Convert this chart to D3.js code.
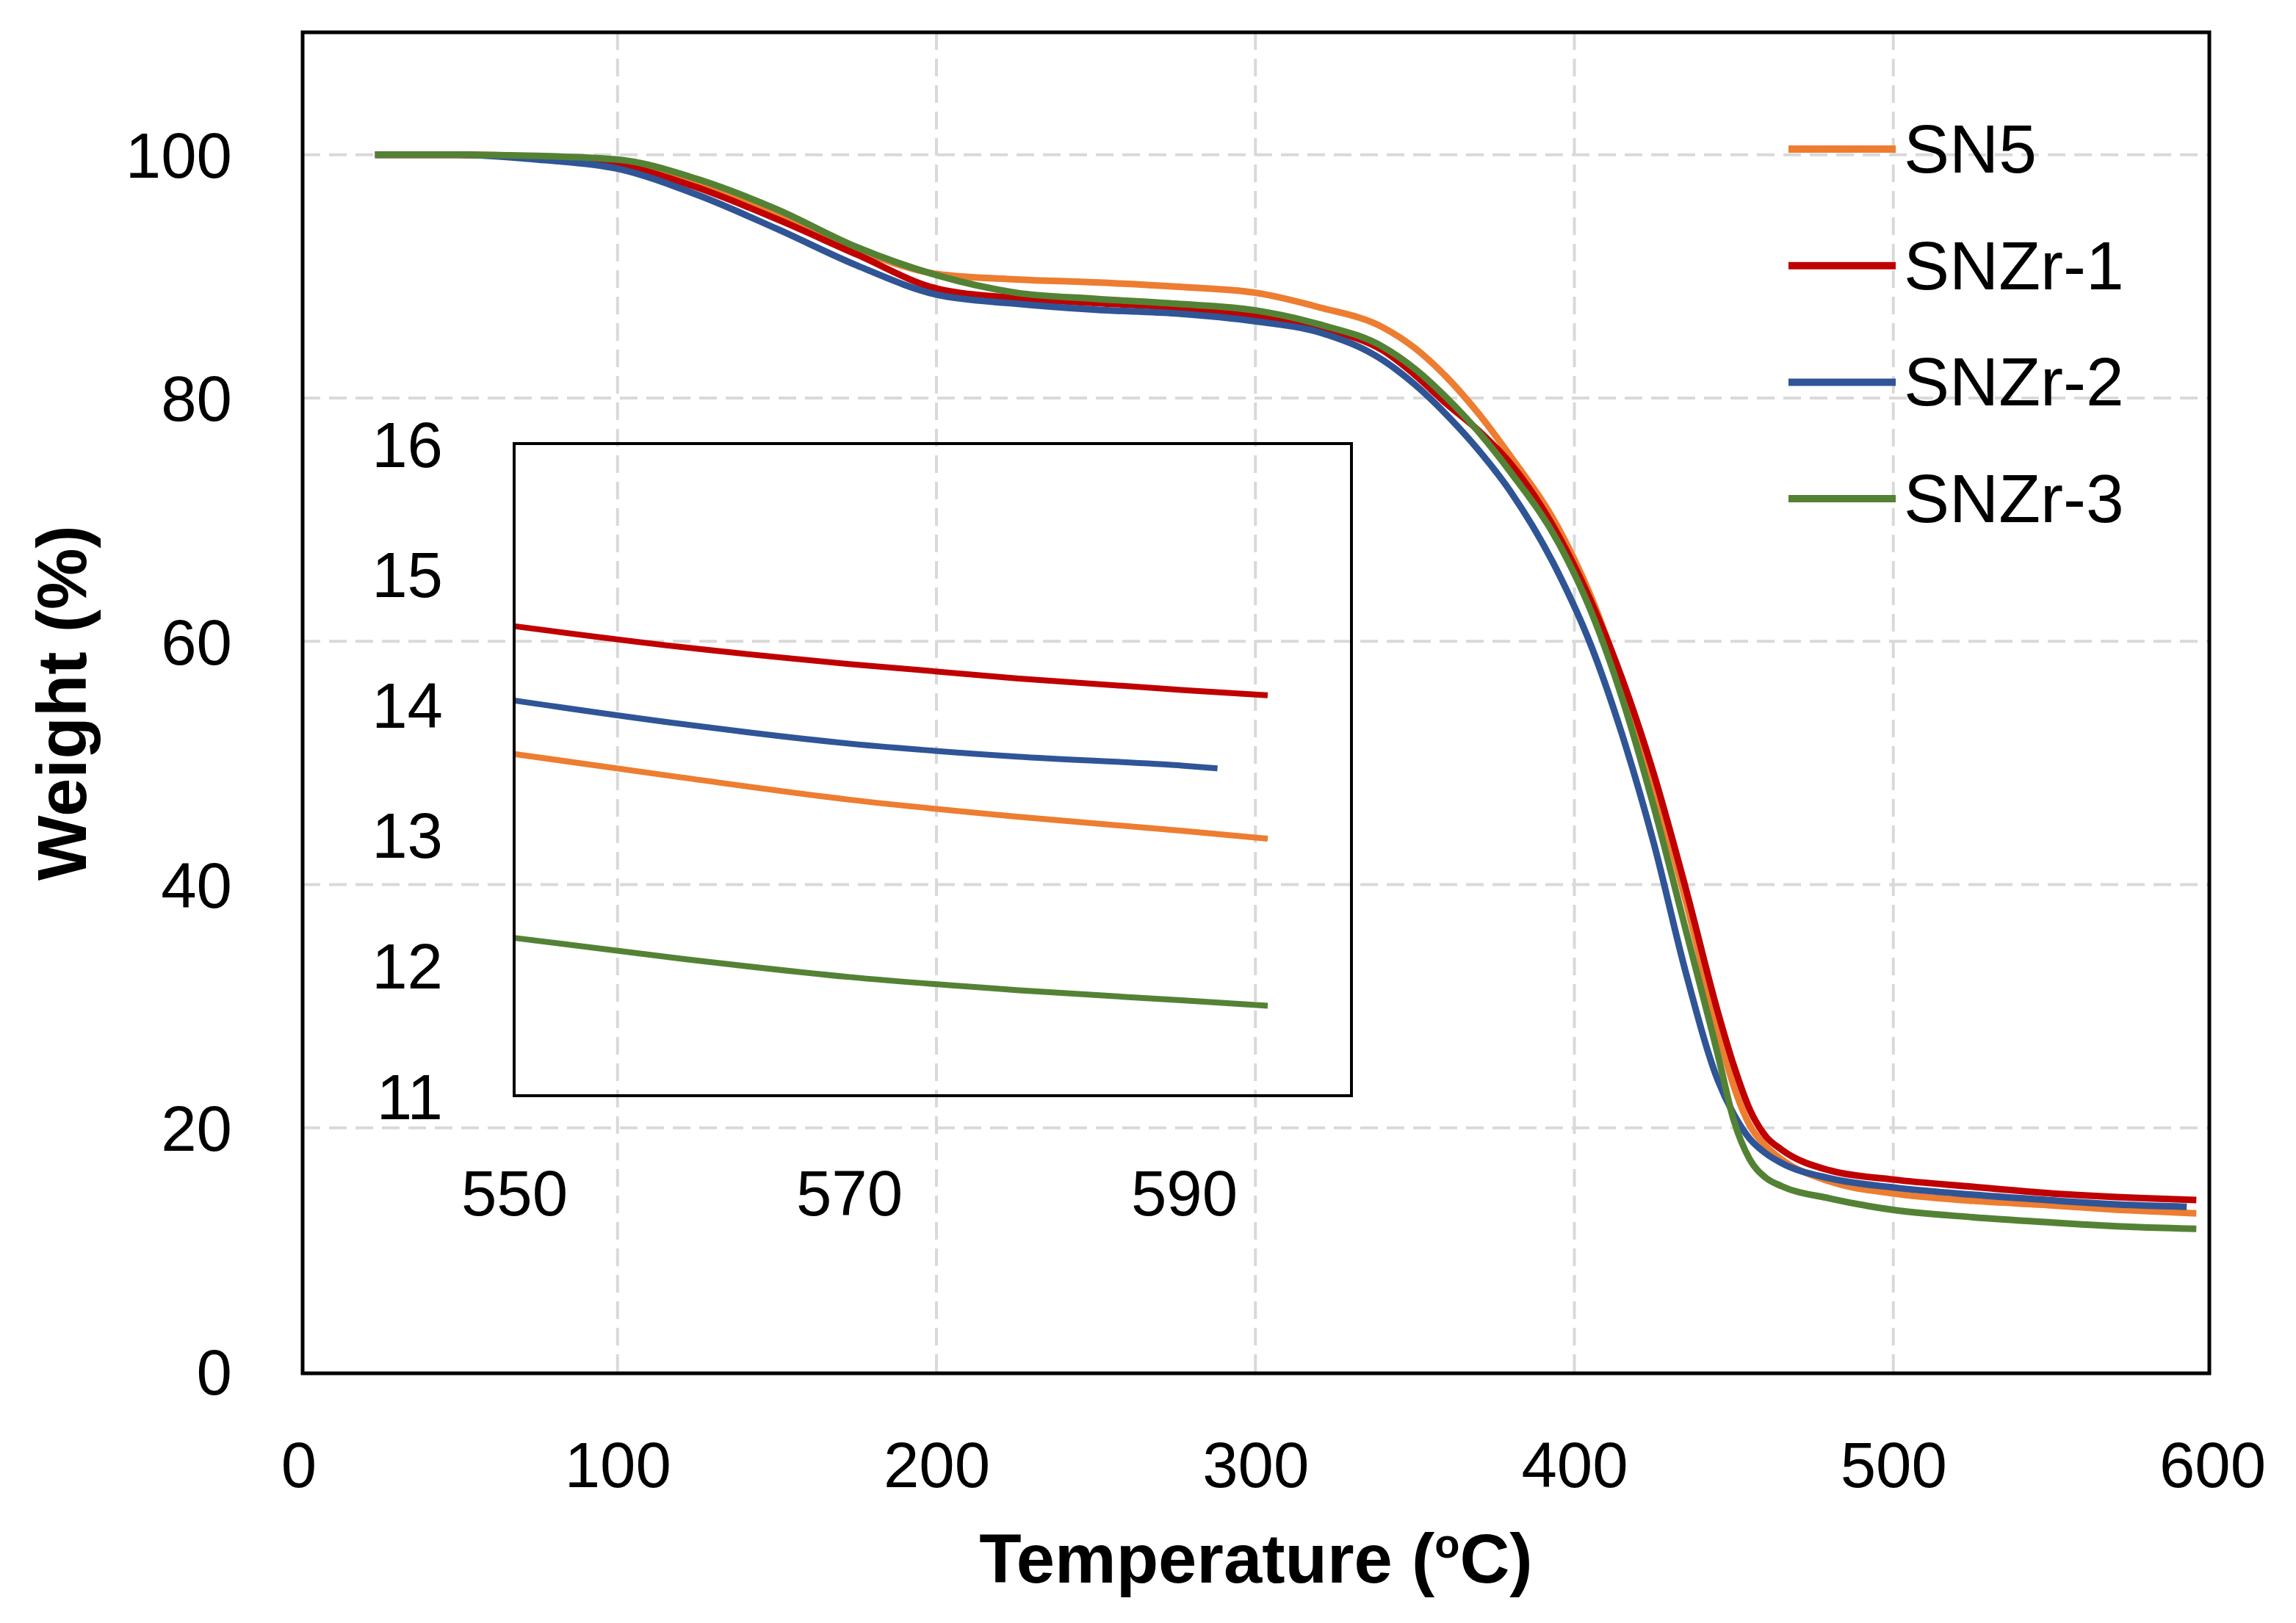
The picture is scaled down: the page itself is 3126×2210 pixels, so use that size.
<!DOCTYPE html>
<html>
<head>
<meta charset="utf-8">
<script src="https://cdn.jsdelivr.net/npm/d3@7"></script>
<style>
  html, body { margin: 0; padding: 0; background: #ffffff; }
  svg { display: block; }
  text { font-family: "Liberation Sans", Arial, sans-serif; fill: #000; }
</style>
</head>
<body>
<svg id="chart" width="3126" height="2210"></svg>
<script>
// ---------------- data ----------------
const temps = [24, 50, 75, 100, 125, 150, 175, 200, 225, 250, 275, 300, 320, 340, 350, 360, 370, 380, 395, 405, 415, 425, 435, 445, 450, 455, 460, 465, 480, 500, 525, 550, 560, 570, 580, 590, 592, 595];

const sn5   = [100, 100, 99.85, 99.45, 97.6, 95.0, 92.2, 90.2, 89.75, 89.5, 89.15, 88.65, 87.45, 85.8, 84.1, 81.7, 78.7, 75.2, 69.3, 63.8, 56.6, 48.0, 38.6, 28.0, 23.4, 20.2, 18.5, 17.4, 15.6, 14.6, 14.0, 13.62, 13.44, 13.27, 13.14, 13.03, null, 12.97];
const snzr1 = [100, 100, 99.8, 99.2, 97.3, 94.7, 91.8, 89.0, 88.2, 87.8, 87.45, 86.7, 85.75, 83.9, 81.9, 79.5, 77.3, 74.6, 68.7, 63.4, 56.9, 49.0, 39.6, 29.5, 25.1, 21.5, 19.3, 18.2, 16.5, 15.75, 15.15, 14.60, 14.44, 14.31, 14.20, 14.11, null, 14.07];
const snzr2 = [100, 100, 99.6, 98.85, 96.7, 93.9, 90.9, 88.5, 87.75, 87.25, 86.95, 86.3, 85.4, 83.1, 81.1, 78.6, 75.7, 72.3, 65.6, 59.8, 52.3, 43.3, 32.7, 23.9, 21.1, 19.1, 17.9, 17.1, 15.85, 15.1, 14.5, 14.03, 13.85, 13.70, 13.60, 13.53, 13.51, null];
const snzr3 = [100, 100, 99.9, 99.6, 98.0, 95.5, 92.4, 90.1, 88.65, 88.15, 87.75, 87.2, 86.05, 84.2, 82.4, 80.0, 77.2, 73.9, 68.1, 62.6, 55.3, 46.3, 36.2, 26.0, 20.6, 17.4, 15.9, 15.2, 14.2, 13.25, 12.65, 12.21, 12.05, 11.91, 11.81, 11.73, null, 11.69];

const seriesNames  = ["SN5", "SNZr-1", "SNZr-2", "SNZr-3"];
const seriesValues = [sn5, snzr1, snzr2, snzr3];
const seriesColors = ["#ED7D31", "#C00000", "#2F5597", "#548235"];

const xTicks = [0, 100, 200, 300, 400, 500, 600];
const yTicks = [0, 20, 40, 60, 80, 100];
const insetXTicks = [550, 570, 590];
const insetYTicks = [11, 12, 13, 14, 15, 16];

// ---------------- layout ----------------
const svg = d3.select("#chart");
const box = { left: 412, right: 3008, top: 44, bottom: 1870 };

const x = d3.scaleLinear().domain([0, 600]).range([406.5, 3012]);
const y = d3.scaleLinear().domain([0, 110]).range([1867, 45]);

const inset = { left: 700, right: 1840, top: 604, bottom: 1492 };
const xi = d3.scaleLinear().domain([550, 600]).range([inset.left, inset.right]);
const yi = d3.scaleLinear().domain([11, 16]).range([inset.bottom, inset.top]);

const series = seriesNames.map((name, i) => ({
  name,
  color: seriesColors[i],
  points: temps.map((t, j) => ({ t, v: seriesValues[i][j] })).filter(p => p.v != null)
}));

const fontFam = "Liberation Sans, Arial, sans-serif";
const intFmt = d3.format("d");

// ---------------- grid ----------------
const grid = svg.append("g");
grid.selectAll("line.gx")
  .data(xTicks.filter(t => t > 0 && t < 600))
  .join("line")
  .attr("x1", d => x(d)).attr("x2", d => x(d))
  .attr("y1", box.top).attr("y2", box.bottom)
  .attr("stroke", "#d9d9d9").attr("stroke-width", 4).attr("stroke-dasharray", "24,12");
grid.selectAll("line.gy")
  .data(yTicks.filter(t => t > 0))
  .join("line")
  .attr("x1", box.left).attr("x2", box.right)
  .attr("y1", d => y(d)).attr("y2", d => y(d))
  .attr("stroke", "#d9d9d9").attr("stroke-width", 4).attr("stroke-dasharray", "24,12");

// ---------------- main axes (labels only) ----------------
const xAxis = d3.axisBottom(x).tickValues(xTicks).tickFormat(intFmt).tickSize(0).tickPadding(0);
const gx = svg.append("g").attr("transform", `translate(0,${box.bottom})`).call(xAxis);
gx.select(".domain").remove();
gx.selectAll("text")
  .attr("y", 155).attr("dy", null)
  .attr("font-size", 87).attr("font-family", fontFam).attr("fill", "#000");

const yAxis = d3.axisLeft(y).tickValues(yTicks).tickFormat(intFmt).tickSize(0).tickPadding(0);
const gy = svg.append("g").attr("transform", `translate(316,0)`).call(yAxis);
gy.select(".domain").remove();
gy.selectAll("text")
  .attr("x", 0).attr("dy", 31)
  .attr("font-size", 87).attr("font-family", fontFam).attr("fill", "#000");

// ---------------- inset axes labels ----------------
const xiAxis = d3.axisBottom(xi).tickValues(insetXTicks).tickFormat(intFmt).tickSize(0).tickPadding(0);
const gxi = svg.append("g").attr("transform", `translate(0,${inset.bottom})`).call(xiAxis);
gxi.select(".domain").remove();
gxi.selectAll("text")
  .attr("y", 163).attr("dy", null)
  .attr("font-size", 87).attr("font-family", fontFam).attr("fill", "#000");

const yiAxis = d3.axisLeft(yi).tickValues(insetYTicks).tickFormat(intFmt).tickSize(0).tickPadding(0);
const gyi = svg.append("g").attr("transform", `translate(603,0)`).call(yiAxis);
gyi.select(".domain").remove();
gyi.selectAll("text")
  .attr("x", 0).attr("dy", 31)
  .attr("font-size", 87).attr("font-family", fontFam).attr("fill", "#000");

// ---------------- main lines ----------------
const line = d3.line().x(d => x(d.t)).y(d => y(d.v)).curve(d3.curveMonotoneX);
svg.append("g").selectAll("path")
  .data(series)
  .join("path")
  .attr("d", d => line(d.points))
  .attr("fill", "none")
  .attr("stroke", d => d.color)
  .attr("stroke-width", 9)
  .attr("stroke-linejoin", "round");

// ---------------- inset lines ----------------
const lineIn = d3.line().x(d => xi(d.t)).y(d => yi(d.v)).curve(d3.curveMonotoneX);
svg.append("g").selectAll("path")
  .data(series)
  .join("path")
  .attr("d", d => lineIn(d.points.filter(p => p.t >= 550)))
  .attr("fill", "none")
  .attr("stroke", d => d.color)
  .attr("stroke-width", 8);

// inset frame
svg.append("rect")
  .attr("x", inset.left).attr("y", inset.top)
  .attr("width", inset.right - inset.left).attr("height", inset.bottom - inset.top)
  .attr("fill", "none").attr("stroke", "#000").attr("stroke-width", 4);

// main frame
svg.append("rect")
  .attr("x", box.left).attr("y", box.top)
  .attr("width", box.right - box.left).attr("height", box.bottom - box.top)
  .attr("fill", "none").attr("stroke", "#000").attr("stroke-width", 5);

// ---------------- legend ----------------
const legend = svg.append("g");
const lg = legend.selectAll("g")
  .data(series)
  .join("g")
  .attr("transform", (d, i) => `translate(0,${203 + i * 158.7})`);
lg.append("line")
  .attr("x1", 2435).attr("x2", 2581).attr("y1", 0).attr("y2", 0)
  .attr("stroke", d => d.color).attr("stroke-width", 10);
lg.append("text")
  .attr("x", 2592).attr("y", 32)
  .attr("font-size", 93)
  .text(d => d.name);

// ---------------- axis titles ----------------
const xt = svg.append("text")
  .attr("x", (box.left + box.right) / 2).attr("y", 2155)
  .attr("text-anchor", "middle")
  .attr("font-size", 94).attr("font-weight", "bold");
xt.append("tspan").text("Temperature (");
xt.append("tspan").attr("font-size", 56).attr("dy", -34).text("o");
xt.append("tspan").attr("dy", 34).text("C)");

svg.append("text")
  .attr("transform", "translate(117,957) rotate(-90)")
  .attr("text-anchor", "middle")
  .attr("font-size", 94).attr("font-weight", "bold")
  .text("Weight (%)");
</script>
</body>
</html>
